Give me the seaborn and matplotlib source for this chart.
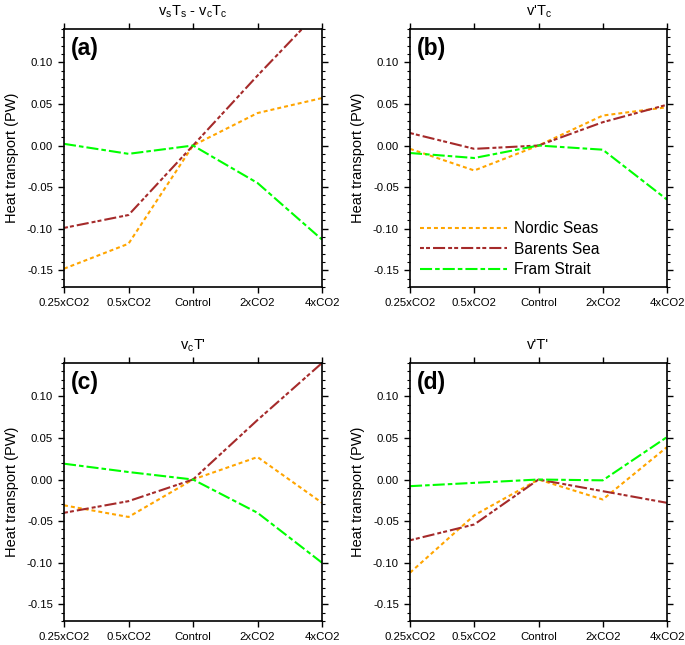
import matplotlib
matplotlib.use("Agg")
import matplotlib.pyplot as plt
import seaborn as sns
import pandas as pd
import numpy as np
from matplotlib.ticker import MultipleLocator, FormatStrFormatter, FixedLocator

# ---- data ----
experiments = ["0.25xCO2", "0.5xCO2", "Control", "2xCO2", "4xCO2"]
regions = ["Nordic Seas", "Barents Sea", "Fram Strait"]

titles = [r"v$_\mathregular{s}$T$_\mathregular{s}$ - v$_\mathregular{c}$T$_\mathregular{c}$",
          r"v'T$_\mathregular{c}$",
          r"v$_\mathregular{c}$T'",
          "v'T'"]
panel_labels = ["(a)", "(b)", "(c)", "(d)"]

# panel (a)
a_nordic = [-0.148, -0.118, 0.0, 0.039, 0.057]
a_barents = [-0.099, -0.0835, 0.0, 0.084, 0.165]
a_fram = [0.002, -0.010, 0.0, -0.045, -0.113]
# panel (b)
b_nordic = [-0.004, -0.030, 0.0, 0.036, 0.046]
b_barents = [0.015, -0.004, 0.0, 0.028, 0.049]
b_fram = [-0.009, -0.015, 0.0, -0.005, -0.065]
# panel (c)
c_nordic = [-0.031, -0.045, 0.0, 0.027, -0.028]
c_barents = [-0.040, -0.026, 0.0, 0.0715, 0.140]
c_fram = [0.019, 0.009, 0.0, -0.040, -0.100]
# panel (d)
d_nordic = [-0.112, -0.043, 0.0, -0.024, 0.039]
d_barents = [-0.073, -0.054, 0.0, -0.014, -0.028]
d_fram = [-0.008, -0.004, 0.0, -0.001, 0.051]

panels = [
    (a_nordic, a_barents, a_fram),
    (b_nordic, b_barents, b_fram),
    (c_nordic, c_barents, c_fram),
    (d_nordic, d_barents, d_fram),
]

palette = {"Nordic Seas": "#FFA500", "Barents Sea": "#A52A2A", "Fram Strait": "#00FF00"}
dashes = {"Nordic Seas": (1.9, 1.45),
          "Barents Sea": (1.9, 1.0, 1.9, 1.45, 5.8, 1.45),
          "Fram Strait": (5.8, 1.45, 2.2, 1.45)}

sns.set_theme(style="white")
plt.rcParams["font.family"] = ["Liberation Sans", "DejaVu Sans"]
plt.rcParams["mathtext.fontset"] = "custom"
plt.rcParams["mathtext.rm"] = "Liberation Sans"
plt.rcParams["text.color"] = "black"
plt.rcParams["axes.labelcolor"] = "black"
plt.rcParams["xtick.color"] = "black"
plt.rcParams["ytick.color"] = "black"

fig = plt.figure(figsize=(6.85, 6.45), dpi=100)
W, H = 685.0, 645.0
boxes = [(64, 29, 322, 287), (410, 29, 667, 287),
         (64, 363, 322, 621), (410, 363, 667, 621)]

for i, (box, series) in enumerate(zip(boxes, panels)):
    x0, y0, x1, y1 = box
    ax = fig.add_axes([x0 / W, 1 - y1 / H, (x1 - x0) / W, (y1 - y0) / H])
    rows = []
    for reg, vals in zip(regions, series):
        for j, (e, v) in enumerate(zip(experiments, vals)):
            rows.append({"pos": j, "exp": e, "region": reg, "value": v})
    df = pd.DataFrame(rows)
    sns.lineplot(data=df, x="pos", y="value", hue="region", style="region",
                 palette=palette, dashes=dashes, hue_order=regions,
                 style_order=regions, linewidth=1.5, ax=ax, legend=(i == 1),
                 sort=False)
    ax.set_xlim(0, 4)
    ax.set_ylim(-0.17, 0.14)
    ax.xaxis.set_major_locator(FixedLocator(range(len(experiments))))
    ax.set_xticklabels(experiments, fontsize=8.2, color="black")
    ax.yaxis.set_major_locator(MultipleLocator(0.05))
    ax.yaxis.set_minor_locator(MultipleLocator(0.01))
    ax.yaxis.set_major_formatter(FormatStrFormatter("%.2f"))
    ax.tick_params(axis="y", which="major", labelsize=8.2, labelcolor="black")
    ax.tick_params(which="major", direction="out", length=4.5, width=1.0,
                   top=True, right=True, bottom=True, left=True, color="black")
    ax.tick_params(axis="y", which="minor", direction="out", length=2.2,
                   width=0.8, left=True, right=True, color="black")
    for s in ax.spines.values():
        s.set_linewidth(1.2)
        s.set_color("black")
    ax.set_xlabel("")
    ax.set_ylabel("Heat transport (PW)", fontsize=10.5, labelpad=6, color="black")
    ax.set_title(titles[i], fontsize=10.5, pad=10, color="black")
    ax.text(0.025, 0.97, panel_labels[i], transform=ax.transAxes,
            fontsize=16.5, fontweight="bold", va="top", ha="left", color="black")
    if i == 1:
        leg = ax.legend(loc="upper left", bbox_to_anchor=(0.039, 0.255),
                        frameon=False, fontsize=11.2, handlelength=5.6,
                        handletextpad=0.45, labelspacing=0.35, borderpad=0,
                        borderaxespad=0)
        for line in leg.get_lines():
            line.set_linewidth(1.5)
        for t in leg.get_texts():
            t.set_color("black")

fig.savefig("out.png", dpi=100)
